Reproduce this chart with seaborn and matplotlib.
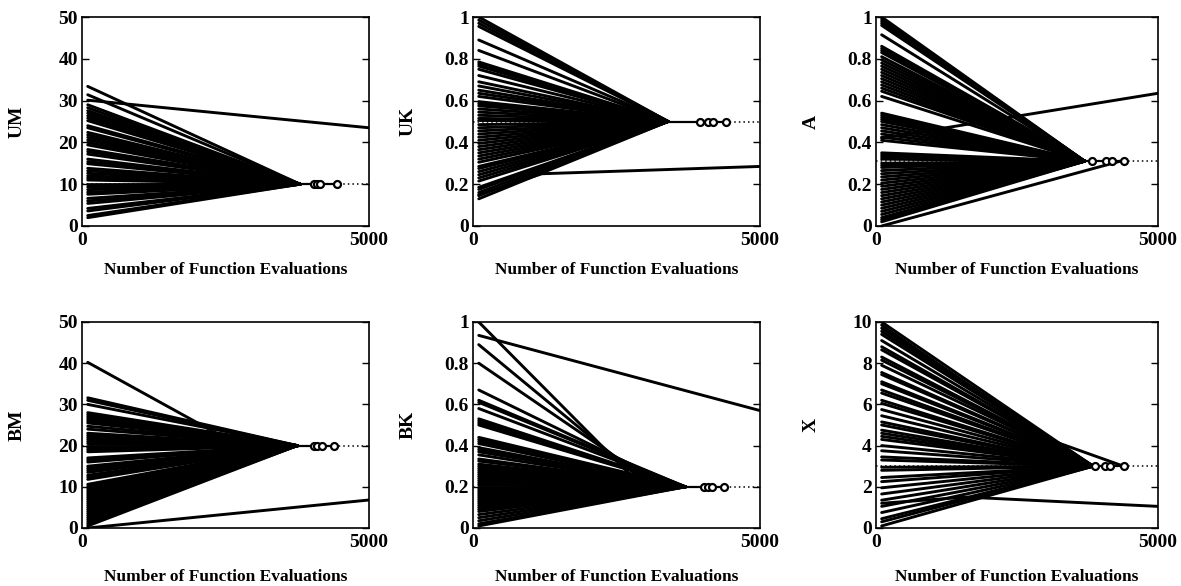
import matplotlib
matplotlib.use("Agg")
import matplotlib.pyplot as plt
import numpy as np
import pandas as pd
import seaborn as sns

# ---------------- data ----------------
X_LABEL = "Number of Function Evaluations"
FIRST_EVAL = 100
MAX_EVAL = 5000

# UM
um_start = [33.4, 31.4, 29.0, 28.3, 27.6, 27.0, 26.4, 25.8, 25.2, 24.0, 23.5, 22.4, 21.8,
            21.2, 20.6, 20.0, 19.4, 18.3, 17.8, 17.2, 16.0, 15.4, 14.9, 13.8, 13.2, 12.6,
            12.0, 11.5, 11.0, 9.9, 9.3, 8.7, 8.1, 7.6, 6.6, 6.0, 5.4, 4.2, 3.6, 2.5, 2.0]
um_final = 10
um_conv = 3800
um_stops = [4050, 4100, 4150, 4450]
um_extra_x = [[100, 5000]]
um_extra_y = [[30.1, 23.5]]
um_yticks = [0, 10, 20, 30, 40, 50]
um_yticklabels = ["0", "10", "20", "30", "40", "50"]

# UK
uk_start = [1.0, 0.985, 0.97, 0.955, 0.89, 0.84, 0.785, 0.775, 0.765, 0.75, 0.72, 0.69,
            0.67, 0.65, 0.635, 0.62, 0.595, 0.585, 0.575, 0.56, 0.545, 0.53, 0.515,
            0.505, 0.485, 0.47, 0.455, 0.44, 0.425, 0.41, 0.395, 0.38, 0.365, 0.35,
            0.335, 0.32, 0.305, 0.285, 0.275, 0.26, 0.245, 0.23, 0.215, 0.185, 0.175,
            0.16, 0.145, 0.13]
uk_final = 0.5
uk_conv = 3400
uk_stops = [3950, 4100, 4180, 4410]
uk_extra_x = [[100, 1200, 5000]]
uk_extra_y = [[0.15, 0.25, 0.285]]
frac_yticks = [0, 0.2, 0.4, 0.6, 0.8, 1.0]
frac_yticklabels = ["0", "0.2", "0.4", "0.6", "0.8", "1"]

# A
a_start = [1.0, 0.99, 0.98, 0.97, 0.96, 0.915, 0.86, 0.85, 0.84, 0.83, 0.81, 0.795,
           0.78, 0.765, 0.75, 0.735, 0.72, 0.705, 0.69, 0.675, 0.66, 0.645, 0.62,
           0.54, 0.53, 0.52, 0.51, 0.50, 0.485, 0.47, 0.455, 0.44, 0.425, 0.41, 0.35,
           0.34, 0.33, 0.32, 0.30, 0.29, 0.28, 0.265, 0.25, 0.235, 0.22, 0.205, 0.19,
           0.175, 0.16, 0.145, 0.13, 0.115, 0.10, 0.085, 0.07, 0.055, 0.04, 0.03, 0.02]
a_final = 0.31
a_conv = 3700
a_stops = [3830, 4070, 4180, 4390]
a_extra_x = [[100, 5000], [100, 4330]]
a_extra_y = [[0.42, 0.635], [0.0, 0.31]]

# BM
bm_start = [31.6, 31.0, 30.0, 28.0, 27.5, 27.0, 26.5, 26.0, 25.5, 24.7, 24.0, 23.0,
            22.5, 22.0, 21.5, 21.0, 20.5, 20.0, 19.5, 19.0, 18.5, 17.0, 16.5, 16.0,
            15.0, 14.5, 14.0, 13.5, 12.8, 12.3, 11.8, 10.6, 10.1, 9.5, 9.0, 8.5, 8.0,
            7.5, 7.0, 6.5, 6.0, 5.5, 5.0, 4.5, 4.0, 3.5, 3.0, 2.5, 2.0, 1.5, 1.0, 0.5]
bm_final = 20
bm_conv = 3750
bm_stops = [4050, 4100, 4180, 4390]
bm_extra_x = [[100, 2340, 3750], [100, 5000]]
bm_extra_y = [[40.2, 23.0, 20.0], [0.0, 6.8]]

# BK
bk_start = [0.62, 0.61, 0.58, 0.53, 0.52, 0.51, 0.50, 0.44, 0.43, 0.42, 0.41, 0.39,
            0.38, 0.37, 0.355, 0.335, 0.325, 0.31, 0.30, 0.29, 0.28, 0.27, 0.26, 0.25,
            0.24, 0.23, 0.22, 0.21, 0.20, 0.19, 0.18, 0.17, 0.16, 0.15, 0.14, 0.13,
            0.12, 0.11, 0.10, 0.09, 0.08, 0.065, 0.05, 0.035, 0.02, 0.01]
bk_final = 0.2
bk_conv = 3700
bk_stops = [4020, 4100, 4160, 4380]
bk_extra_x = [[100, 2950], [100, 3100], [100, 3250], [100, 3550], [100, 5000]]
bk_extra_y = [[1.0, 0.2], [0.89, 0.2], [0.8, 0.2], [0.67, 0.2], [0.935, 0.57]]

# X
x_start = [10.0, 9.7, 9.55, 9.4, 9.1, 8.8, 8.65, 8.3, 8.15, 7.9, 7.55, 7.45, 7.1,
           7.0, 6.7, 6.55, 6.2, 6.05, 5.75, 5.45, 5.15, 5.0, 4.75, 4.6, 4.45, 4.3,
           4.0, 3.75, 3.45, 3.3, 2.95, 2.8, 2.45, 2.25, 1.95, 1.65, 1.35, 1.05, 0.75,
           0.45, 0.3, 0.1]
x_final = 3
x_conv = 3850
x_stops = [3880, 4060, 4150, 4390]
x_extra_x = [[100, 3060, 4390], [100, 1600, 5000]]
x_extra_y = [[9.85, 4.3, 3.0], [1.2, 1.5, 1.05]]
x_yticks = [0, 2, 4, 6, 8, 10]
x_yticklabels = ["0", "2", "4", "6", "8", "10"]

panels = [
    ("UM", um_start, um_final, um_conv, um_stops, um_extra_x, um_extra_y, 50, um_yticks, um_yticklabels),
    ("UK", uk_start, uk_final, uk_conv, uk_stops, uk_extra_x, uk_extra_y, 1, frac_yticks, frac_yticklabels),
    ("A", a_start, a_final, a_conv, a_stops, a_extra_x, a_extra_y, 1, frac_yticks, frac_yticklabels),
    ("BM", bm_start, bm_final, bm_conv, bm_stops, bm_extra_x, bm_extra_y, 50, um_yticks, um_yticklabels),
    ("BK", bk_start, bk_final, bk_conv, bk_stops, bk_extra_x, bk_extra_y, 1, frac_yticks, frac_yticklabels),
    ("X", x_start, x_final, x_conv, x_stops, x_extra_x, x_extra_y, 10, x_yticks, x_yticklabels),
]

# ---------------- style ----------------
sns.set_style("ticks")
plt.rcParams["font.family"] = ["Liberation Serif", "DejaVu Serif"]
plt.rcParams["axes.linewidth"] = 1.2
plt.rcParams["axes.edgecolor"] = "black"
plt.rcParams["axes.labelcolor"] = "black"
plt.rcParams["text.color"] = "black"
plt.rcParams["xtick.color"] = "black"
plt.rcParams["ytick.color"] = "black"

fig = plt.figure(figsize=(11.81, 5.86), dpi=100)
W, H = 1181, 586
col_px = [(82, 369), (473, 760), (876, 1158)]
row_px = [(17, 226), (322, 528)]

LW = 2.1
for k, (name, starts, final, conv, stops, ex_x, ex_y, ymax, yt, ytl) in enumerate(panels):
    r, c = divmod(k, 3)
    (x0, x1), (y0, y1) = col_px[c], row_px[r]
    ax = fig.add_axes([x0 / W, 1 - y1 / H, (x1 - x0) / W, (y1 - y0) / H])

    rows = []
    for i, s in enumerate(starts):
        rows.append((FIRST_EVAL, s, i, 0))
        rows.append((conv, final, i, 1))
    n = len(starts)
    for j, (xs, ys) in enumerate(zip(ex_x, ex_y)):
        for o, (xx, yy) in enumerate(zip(xs, ys)):
            rows.append((xx, yy, n + j, o))
    df = pd.DataFrame(rows, columns=["evals", "value", "trace", "order"])

    ax.axhline(final, color="black", lw=1.1, ls=(0, (1, 2)), zorder=1)
    sns.lineplot(data=df, x="evals", y="value", units="trace", estimator=None,
                 sort=False, color="black", lw=LW, legend=False, ax=ax, zorder=2)
    ax.plot([conv, max(stops)], [final, final], color="black", lw=1.6, zorder=2)
    ax.plot(stops, [final] * len(stops), ls="none", marker="o", ms=5,
            mfc="white", mec="black", mew=1.6, zorder=3)

    ax.set_xlim(0, MAX_EVAL)
    ax.set_ylim(0, ymax)
    ax.set_xticks([0, MAX_EVAL])
    ax.set_xticklabels(["0", "5000"], fontsize=14, fontweight="bold")
    ax.set_yticks(yt)
    ax.set_yticklabels(ytl, fontsize=14, fontweight="bold")
    ax.tick_params(axis="x", length=0, pad=4)
    ax.tick_params(axis="y", direction="in", length=5, width=1.0, right=True, pad=3)
    ax.set_xlabel(X_LABEL, fontsize=12.5, fontweight="bold", labelpad=10 if r == 0 else 13)
    ax.set_ylabel(name, fontsize=14, fontweight="bold")
    ax.yaxis.set_label_coords(-56 / (x1 - x0), 0.5)
    for sp in ax.spines.values():
        sp.set_visible(True)
        sp.set_linewidth(1.2)
        sp.set_color("black")

fig.savefig("out.png", dpi=100)
